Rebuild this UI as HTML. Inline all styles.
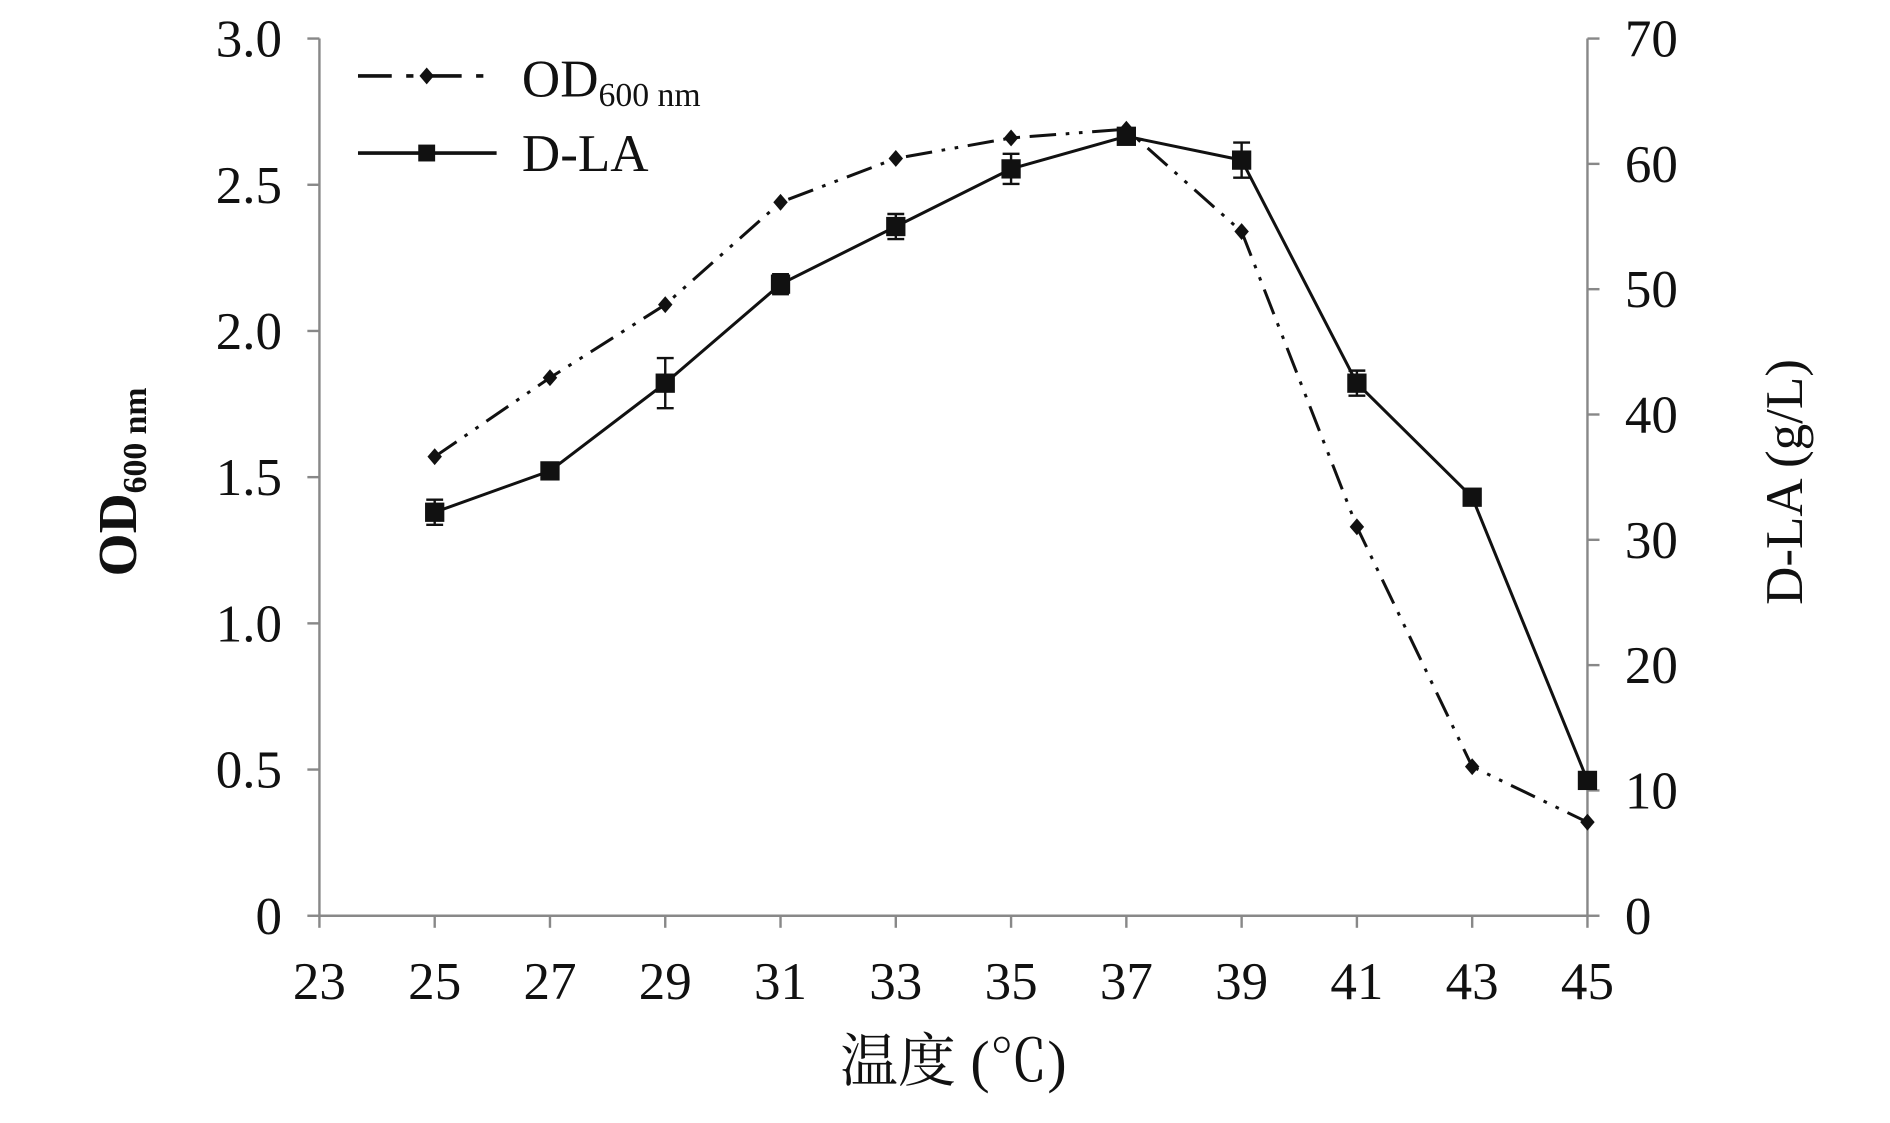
<!DOCTYPE html>
<html><head><meta charset="utf-8"><style>
html,body{margin:0;padding:0;background:#fff;}
svg{display:block;}
text{font-family:"Liberation Serif","Noto Serif CJK SC",serif;fill:#111;}
</style></head><body>
<svg id="chart" width="1890" height="1123" viewBox="0 0 1568 932" preserveAspectRatio="none" xmlns="http://www.w3.org/2000/svg">
<g id="axes"></g>
<g id="series"></g>
<g>
 <line x1="297" y1="63" x2="412" y2="63" stroke="#111" stroke-width="3" stroke-dasharray="28,12,6,12"/>
 <path d="M354,56 L360,63 L354,70 L348,63Z" fill="#111"/>
 <text x="433" y="80" font-size="44">OD<tspan font-size="28" dy="8">600 nm</tspan></text>
 <line x1="297" y1="127" x2="412" y2="127" stroke="#111" stroke-width="3"/>
 <rect x="347" y="120" width="14" height="14" fill="#111"/>
 <text x="433" y="142" font-size="44">D-LA</text>
</g>
<text x="791" y="897" font-size="48" text-anchor="middle">温度 (℃)</text>
<text transform="translate(113,400) rotate(-90)" font-size="46" font-weight="bold" text-anchor="middle">OD<tspan font-size="28" dy="8">600 nm</tspan></text>
<text transform="translate(1495,400) rotate(-90)" font-size="44" text-anchor="middle">D-LA (g/L)</text>
</svg>
<script>
const temps=[25,27,29,31,33,35,37,39,41,43,45];
const odValues=[1.57,1.84,2.09,2.44,2.59,2.66,2.69,2.34,1.33,0.51,0.32];
const dlaValues=[32.2,35.5,42.5,50.4,55.0,59.6,62.2,60.3,42.5,33.4,10.8];
const dlaErrors=[1.0,0.6,2.0,0.8,1.0,1.2,0.6,1.4,1.0,0.6,0.6];
const xTicks=[23,25,27,29,31,33,35,37,39,41,43,45];
const leftTicks=[0,0.5,1.0,1.5,2.0,2.5,3.0];
const leftTickLabels=["0","0.5","1.0","1.5","2.0","2.5","3.0"];
const rightTicks=[0,10,20,30,40,50,60,70];
const NS="http://www.w3.org/2000/svg";
const X0=265,X1=1317,Y0=760,Y1=32;
const xs=t=>X0+(t-23)/(45-23)*(X1-X0);
const yl=v=>Y0-v/3*(Y0-Y1);
const yr=v=>Y0-v/70*(Y0-Y1);
function mk(tag,parent,attrs){const e=document.createElementNS(NS,tag);for(const k in attrs)e.setAttribute(k,attrs[k]);parent.appendChild(e);return e;}
const ax=document.getElementById('axes'),se=document.getElementById('series');
let e;
e=mk('line',ax,{x1:X0,y1:Y0,x2:X1,y2:Y0,stroke:'#888','stroke-width':2});


e=mk('line',ax,{x1:X0,y1:Y0,x2:X0,y2:Y1,stroke:'#888','stroke-width':2});


e=mk('line',ax,{x1:X1,y1:Y0,x2:X1,y2:Y1,stroke:'#888','stroke-width':2});


xTicks.forEach(t=>{
 e=mk('line',ax,{x1:xs(t),y1:Y0,x2:xs(t),y2:Y0+10,stroke:'#888','stroke-width':2});
 
 
 e=mk('text',ax,{x:xs(t),y:829,'font-size':44,'text-anchor':'middle'});e.textContent=t;
 
 
});
leftTicks.forEach((v,i)=>{
 e=mk('line',ax,{x1:X0-10,y1:yl(v),x2:X0,y2:yl(v),stroke:'#888','stroke-width':2});
 
 
 e=mk('text',ax,{x:234,y:yl(v)+15,'font-size':44,'text-anchor':'end'});e.textContent=leftTickLabels[i];
 
 
});
rightTicks.forEach(v=>{
 e=mk('line',ax,{x1:X1,y1:yr(v),x2:X1+10,y2:yr(v),stroke:'#888','stroke-width':2});
 
 
 e=mk('text',ax,{x:1348,y:yr(v)+15,'font-size':44,'text-anchor':'start'});e.textContent=v;
 
 
});
e=mk('polyline',se,{points:temps.map((t,i)=>xs(t)+','+yl(odValues[i])).join(' '),fill:'none',stroke:'#111','stroke-width':2.5,'stroke-dasharray':'22,8,3,8,3,8'});


e=mk('polyline',se,{points:temps.map((t,i)=>xs(t)+','+yr(dlaValues[i])).join(' '),fill:'none',stroke:'#111','stroke-width':2.5});


temps.forEach((t,i)=>{
 const x=xs(t),y=yl(odValues[i]);
 e=mk('path',se,{d:`M${x},${y-7} L${x+6},${y} L${x},${y+7} L${x-6},${y}Z`,fill:'#111'});
 
 
 const yd=yr(dlaValues[i]),ya=yr(dlaValues[i]+dlaErrors[i]),yb=yr(dlaValues[i]-dlaErrors[i]);
 e=mk('path',se,{d:`M${x},${ya} V${yb} M${x-7},${ya} H${x+7} M${x-7},${yb} H${x+7}`,stroke:'#111','stroke-width':2,fill:'none'});
 
 
 e=mk('rect',se,{x:x-8,y:yd-8,width:16,height:16,fill:'#111'});
 
 
});
</script>
</body></html>
